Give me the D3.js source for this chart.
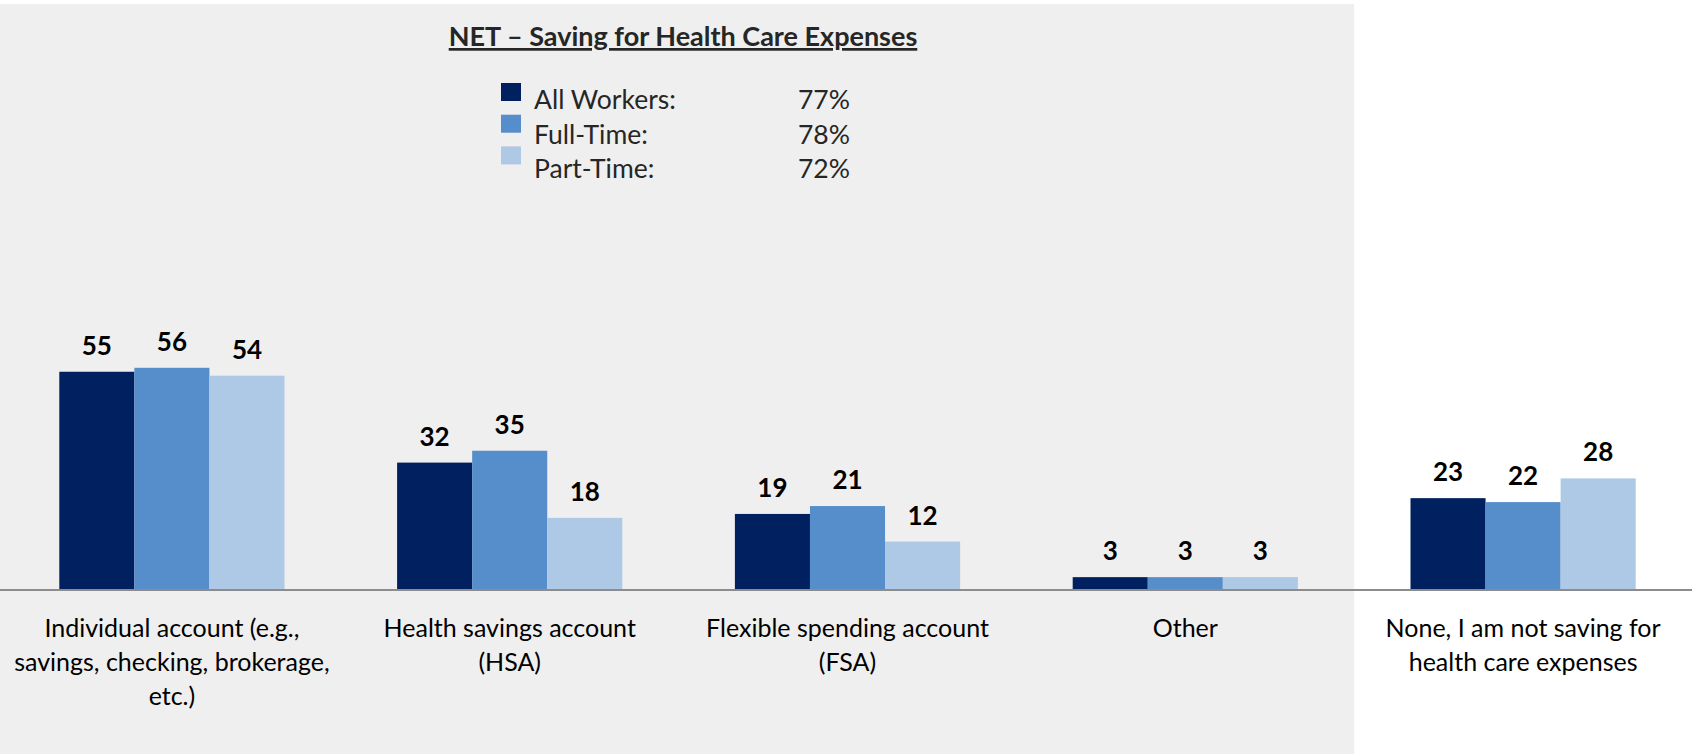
<!DOCTYPE html>
<html>
<head>
<meta charset="utf-8">
<script src="https://cdn.jsdelivr.net/npm/d3@7"></script>
<style>
  body { margin: 0; background: #fff; }
  svg { display: block; font-family: Lato, "Open Sans", sans-serif; }
</style>
</head>
<body>
<svg id="chart" width="1693" height="754"></svg>
<script>
// chart data
var categories = [
    ['Individual account (e.g.,', 'savings, checking, brokerage,', 'etc.)'],
    ['Health savings account', '(HSA)'],
    ['Flexible spending account', '(FSA)'],
    ['Other'],
    ['None, I am not saving for', 'health care expenses']
];
var seriesNames = ['All Workers:', 'Full-Time:', 'Part-Time:'];
var netValues = ['77%', '78%', '72%'];
var allWorkers = [55, 32, 19, 3, 23];
var fullTime = [56, 35, 21, 3, 22];
var partTime = [54, 18, 12, 3, 28];
var colors = ['#00205f', '#558eca', '#adc9e5'];

var Chart = {};

Chart.init = function() {
    var svg = d3.select('#chart');
    var width = 1693, height = 754;
    var baseY = 589;

    var x = d3.scaleBand()
        .domain(d3.range(categories.length))
        .range([3, 1692])
        .paddingInner(1 / 3)
        .paddingOuter(1 / 6);
    var x1 = d3.scaleBand()
        .domain(d3.range(seriesNames.length))
        .range([0, x.bandwidth()]);
    var y = d3.scaleLinear().domain([0, 100]).range([baseY, baseY - 395]);

    // grey panel behind the first four categories
    var panelRight = x(4) - x.step() * x.paddingInner() / 2;
    svg.append('rect')
        .attr('x', 0).attr('y', 4)
        .attr('width', panelRight).attr('height', height - 4)
        .attr('fill', '#efefef');

    var series = [allWorkers, fullTime, partTime];
    var groups = svg.selectAll('g.group')
        .data(categories)
        .enter().append('g')
        .attr('class', 'group')
        .attr('transform', function(d, i) { return 'translate(' + x(i) + ',0)'; });

    groups.each(function(cat, ci) {
        var g = d3.select(this);
        series.forEach(function(vals, si) {
            var v = vals[ci];
            g.append('rect')
                .attr('x', x1(si))
                .attr('y', y(v))
                .attr('width', x1.bandwidth())
                .attr('height', baseY - y(v))
                .attr('fill', colors[si]);
            g.append('text')
                .attr('x', x1(si) + x1.bandwidth() / 2)
                .attr('y', y(v) - 17)
                .attr('text-anchor', 'middle')
                .attr('font-size', 26)
                .attr('font-weight', 'bold')
                .attr('fill', '#000')
                .text(v);
        });
        var label = g.append('text')
            .attr('text-anchor', 'middle')
            .attr('font-size', 25)
            .attr('fill', '#000');
        cat.forEach(function(line, li) {
            label.append('tspan')
                .attr('x', x.bandwidth() / 2)
                .attr('y', 637 + li * 34)
                .text(line);
        });
    });

    // baseline
    svg.append('line')
        .attr('x1', 0).attr('x2', 1692)
        .attr('y1', baseY + 1).attr('y2', baseY + 1)
        .attr('stroke', '#8c8c8c')
        .attr('stroke-width', 2);

    // title
    svg.append('text')
        .attr('x', 683).attr('y', 46)
        .attr('text-anchor', 'middle')
        .attr('font-size', 27)
        .attr('font-weight', 'bold')
        .attr('fill', '#262626')
        .attr('text-decoration', 'underline')
        .text('NET \u2013 Saving for Health Care Expenses');

    // legend
    var legend = svg.append('g').attr('transform', 'translate(501,83)');
    seriesNames.forEach(function(name, i) {
        legend.append('rect')
            .attr('x', 0).attr('y', i * 31.7)
            .attr('width', 20).attr('height', 18)
            .attr('fill', colors[i]);
        legend.append('text')
            .attr('x', 33).attr('y', 26 + i * 34.5)
            .attr('font-size', 26.5)
            .attr('fill', '#262626')
            .text(name);
        legend.append('text')
            .attr('x', 297).attr('y', 26 + i * 34.5)
            .attr('font-size', 26.5)
            .attr('fill', '#262626')
            .text(netValues[i]);
    });
};

Chart.init();
</script>
</body>
</html>
